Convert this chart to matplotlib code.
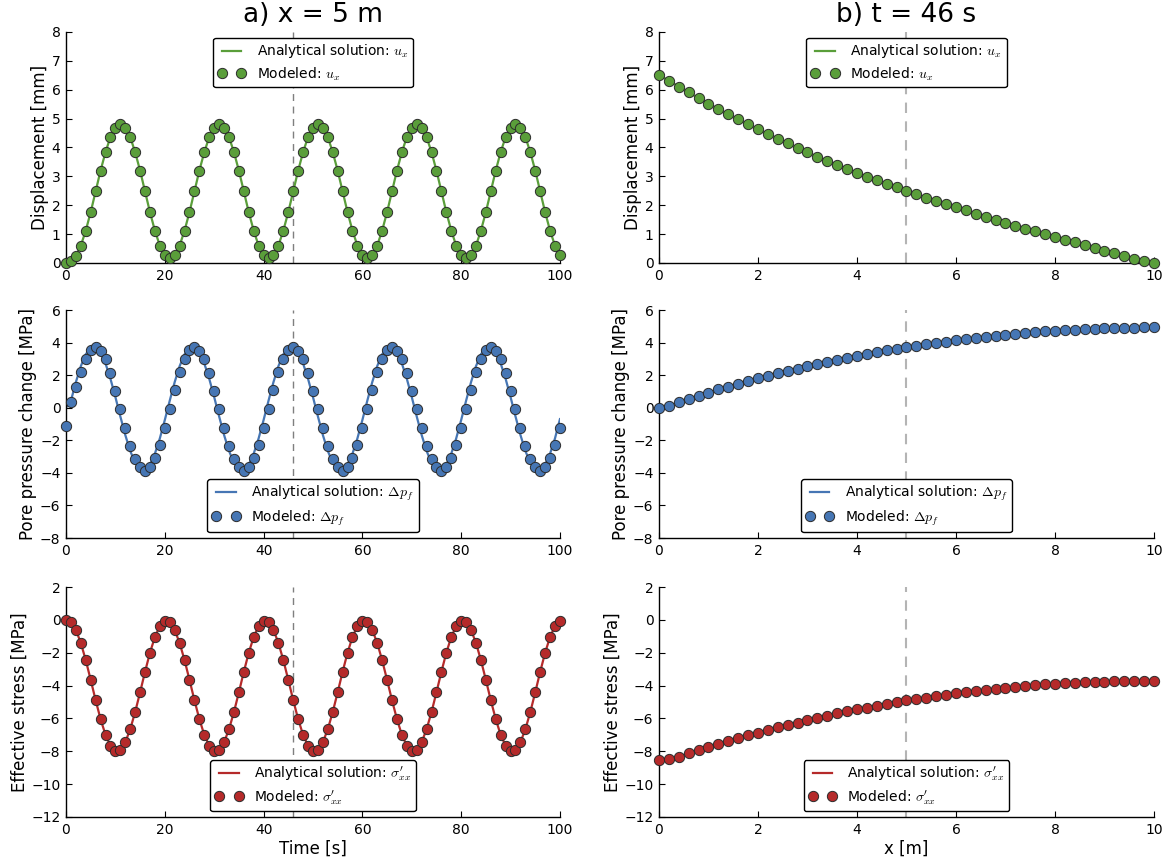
import numpy as np
import matplotlib
matplotlib.use("Agg")
import matplotlib.pyplot as plt

# ---------------------------------------------------------------------------
# Data
# ---------------------------------------------------------------------------
time_s = np.arange(0, 101)            # observation times at x = 5 m
x_m = np.linspace(0.0, 10.0, 51)      # profile positions at t = 46 s

# displacement u_x [mm] at x = 5 m
disp_t = [
    0.00, 0.06, 0.25, 0.60, 1.12, 1.76, 2.48, 3.20, 3.84, 4.36,
    4.69, 4.80, 4.69, 4.36, 3.84, 3.20, 2.48, 1.76, 1.12, 0.60,
    0.27, 0.16, 0.27, 0.60, 1.12, 1.76, 2.48, 3.20, 3.84, 4.36,
    4.69, 4.80, 4.69, 4.36, 3.84, 3.20, 2.48, 1.76, 1.12, 0.60,
    0.27, 0.16, 0.27, 0.60, 1.12, 1.76, 2.48, 3.20, 3.84, 4.36,
    4.69, 4.80, 4.69, 4.36, 3.84, 3.20, 2.48, 1.76, 1.12, 0.60,
    0.27, 0.16, 0.27, 0.60, 1.12, 1.76, 2.48, 3.20, 3.84, 4.36,
    4.69, 4.80, 4.69, 4.36, 3.84, 3.20, 2.48, 1.76, 1.12, 0.60,
    0.27, 0.16, 0.27, 0.60, 1.12, 1.76, 2.48, 3.20, 3.84, 4.36,
    4.69, 4.80, 4.69, 4.36, 3.84, 3.20, 2.48, 1.76, 1.12, 0.60,
    0.27,
]

# pore pressure change [MPa] at x = 5 m
pres_t_analytical = [
    0.00, 0.43, 1.57, 2.55, 3.28, 3.68, 3.72, 3.39, 2.72, 1.78,
    0.66, -0.53, -1.67, -2.65, -3.38, -3.78, -3.82, -3.49, -2.82, -1.88,
    -0.76, 0.43, 1.57, 2.55, 3.28, 3.68, 3.72, 3.39, 2.72, 1.78,
    0.66, -0.53, -1.67, -2.65, -3.38, -3.78, -3.82, -3.49, -2.82, -1.88,
    -0.76, 0.43, 1.57, 2.55, 3.28, 3.68, 3.72, 3.39, 2.72, 1.78,
    0.66, -0.53, -1.67, -2.65, -3.38, -3.78, -3.82, -3.49, -2.82, -1.88,
    -0.76, 0.43, 1.57, 2.55, 3.28, 3.68, 3.72, 3.39, 2.72, 1.78,
    0.66, -0.53, -1.67, -2.65, -3.38, -3.78, -3.82, -3.49, -2.82, -1.88,
    -0.76, 0.43, 1.57, 2.55, 3.28, 3.68, 3.72, 3.39, 2.72, 1.78,
    0.66, -0.53, -1.67, -2.65, -3.38, -3.78, -3.82, -3.49, -2.82, -1.88,
    -0.70,
]
pres_t_modeled = [
    -1.10, 0.37, 1.29, 2.21, 2.97, 3.54, 3.75, 3.50, 2.97, 2.11,
    1.05, -0.08, -1.27, -2.33, -3.15, -3.66, -3.86, -3.66, -3.11, -2.29,
    -1.22, -0.10, 1.09, 2.18, 2.97, 3.54, 3.75, 3.50, 2.97, 2.11,
    1.05, -0.08, -1.27, -2.33, -3.15, -3.66, -3.86, -3.66, -3.11, -2.29,
    -1.22, -0.10, 1.09, 2.18, 2.97, 3.54, 3.75, 3.50, 2.97, 2.11,
    1.05, -0.08, -1.27, -2.33, -3.15, -3.66, -3.86, -3.66, -3.11, -2.29,
    -1.22, -0.10, 1.09, 2.18, 2.97, 3.54, 3.75, 3.50, 2.97, 2.11,
    1.05, -0.08, -1.27, -2.33, -3.15, -3.66, -3.86, -3.66, -3.11, -2.29,
    -1.22, -0.10, 1.09, 2.18, 2.97, 3.54, 3.75, 3.50, 2.97, 2.11,
    1.05, -0.08, -1.27, -2.33, -3.15, -3.66, -3.86, -3.66, -3.11, -2.29,
    -1.22,
]

# effective stress sigma'_xx [MPa] at x = 5 m
stress_t = [
    0.00, -0.15, -0.61, -1.40, -2.45, -3.65, -4.89, -6.04, -7.00, -7.66,
    -7.96, -7.90, -7.45, -6.66, -5.61, -4.41, -3.16, -2.00, -1.04, -0.37,
    -0.07, -0.15, -0.61, -1.40, -2.45, -3.65, -4.89, -6.04, -7.00, -7.66,
    -7.96, -7.90, -7.45, -6.66, -5.61, -4.41, -3.16, -2.00, -1.04, -0.37,
    -0.07, -0.15, -0.61, -1.40, -2.45, -3.65, -4.89, -6.04, -7.00, -7.66,
    -7.96, -7.90, -7.45, -6.66, -5.61, -4.41, -3.16, -2.00, -1.04, -0.37,
    -0.07, -0.15, -0.61, -1.40, -2.45, -3.65, -4.89, -6.04, -7.00, -7.66,
    -7.96, -7.90, -7.45, -6.66, -5.61, -4.41, -3.16, -2.00, -1.04, -0.37,
    -0.07, -0.15, -0.61, -1.40, -2.45, -3.65, -4.89, -6.04, -7.00, -7.66,
    -7.96, -7.90, -7.45, -6.66, -5.61, -4.41, -3.16, -2.00, -1.04, -0.37,
    -0.07,
]

# profiles at t = 46 s
disp_x = [
    6.51, 6.31, 6.11, 5.91, 5.71, 5.52, 5.33, 5.15, 4.98, 4.80,
    4.63, 4.47, 4.31, 4.15, 3.98, 3.83, 3.68, 3.54, 3.40, 3.27,
    3.13, 2.99, 2.86, 2.74, 2.62, 2.50, 2.38, 2.26, 2.15, 2.03,
    1.93, 1.82, 1.71, 1.60, 1.50, 1.40, 1.29, 1.19, 1.10, 1.00,
    0.91, 0.81, 0.72, 0.62, 0.53, 0.43, 0.34, 0.24, 0.15, 0.07,
    0.00,
]
pres_x = [
    0.00, 0.13, 0.33, 0.54, 0.72, 0.92, 1.13, 1.29, 1.48, 1.64,
    1.81, 1.95, 2.11, 2.26, 2.40, 2.54, 2.69, 2.81, 2.95, 3.07,
    3.19, 3.30, 3.40, 3.53, 3.61, 3.71, 3.81, 3.89, 3.97, 4.05,
    4.14, 4.22, 4.28, 4.36, 4.42, 4.48, 4.55, 4.61, 4.65, 4.69,
    4.73, 4.77, 4.79, 4.83, 4.85, 4.87, 4.89, 4.91, 4.91, 4.93,
    4.93,
]
stress_x = [
    -8.52, -8.47, -8.33, -8.12, -7.92, -7.74, -7.56, -7.37, -7.19, -7.03,
    -6.87, -6.70, -6.54, -6.40, -6.26, -6.11, -5.97, -5.83, -5.69, -5.55,
    -5.43, -5.34, -5.22, -5.12, -5.02, -4.90, -4.82, -4.74, -4.63, -4.55,
    -4.47, -4.41, -4.33, -4.27, -4.21, -4.13, -4.07, -4.03, -3.96, -3.92,
    -3.89, -3.84, -3.82, -3.80, -3.78, -3.76, -3.74, -3.72, -3.72, -3.70,
    -3.70,
]

x_probe = 5.0      # m
t_probe = 46.0     # s

# ---------------------------------------------------------------------------
# Style
# ---------------------------------------------------------------------------
plt.rcParams.update({
    "font.family": ["DejaVu Sans"],
    "mathtext.fontset": "cm",
    "font.size": 10,
    "xtick.direction": "in",
    "ytick.direction": "in",
    "xtick.major.size": 4,
    "ytick.major.size": 4,
    "xtick.major.width": 0.8,
    "ytick.major.width": 0.8,
    "axes.linewidth": 1.0,
    "legend.fontsize": 10,
})

GREEN = "#5a9e3a"
BLUE = "#4676b4"
RED = "#b52a2a"
EDGE = "#2b2b2b"

fig = plt.figure(figsize=(11.68, 8.60), dpi=100)

col_left = [0.0565, 0.5642]
col_width = [0.4229, 0.4238]
rows = [(0.6942, 0.2686), (0.3744, 0.2651), (0.0500, 0.2674)]

axes = [[fig.add_axes([col_left[c], rows[r][0], col_width[c], rows[r][1]])
         for c in range(2)] for r in range(3)]

SIG = r"$\sigma^{\prime}_{xx}$"

panels = [
    # (row, col, xdata, line, points, colour, ylabel, ylim, yticks, symbol, legend loc)
    (0, 0, time_s, disp_t, disp_t, GREEN, "Displacement [mm]", (0, 8),
     np.arange(0, 9, 1), r"$u_x$", "upper center"),
    (1, 0, time_s, pres_t_analytical, pres_t_modeled, BLUE,
     "Pore pressure change [MPa]", (-8, 6), np.arange(-8, 7, 2),
     r"$\Delta p_f$", "lower center"),
    (2, 0, time_s, stress_t, stress_t, RED, "Effective stress [MPa]",
     (-12, 2), np.arange(-12, 3, 2), SIG, "lower center"),
    (0, 1, x_m, disp_x, disp_x, GREEN, "Displacement [mm]", (0, 8),
     np.arange(0, 9, 1), r"$u_x$", "upper center"),
    (1, 1, x_m, pres_x, pres_x, BLUE, "Pore pressure change [MPa]", (-8, 6),
     np.arange(-8, 7, 2), r"$\Delta p_f$", "lower center"),
    (2, 1, x_m, stress_x, stress_x, RED, "Effective stress [MPa]", (-12, 2),
     np.arange(-12, 3, 2), SIG, "lower center"),
]

for r, c, xs, line, pts, colour, ylabel, ylim, yticks, sym, loc in panels:
    ax = axes[r][c]
    if c == 0:
        ax.axvline(t_probe, color="#7f7f7f", lw=1.0, ls=(0, (5, 4)), zorder=1)
        ax.set_xlim(0, 100)
        ax.set_xticks(np.arange(0, 101, 20))
    else:
        ax.axvline(x_probe, color="#b4b4b4", lw=1.5, ls=(0, (5, 4)), zorder=1)
        ax.set_xlim(0, 10)
        ax.set_xticks(np.arange(0, 11, 2))
    ax.plot(xs, line, color=colour, lw=1.6, zorder=2,
            label="Analytical solution: " + sym)
    ax.plot(xs, pts, ls="none", marker="o", ms=7.4, mfc=colour, mec=EDGE,
            mew=0.7, zorder=3, label="Modeled: " + sym, clip_on=False)
    ax.set_ylim(*ylim)
    ax.set_yticks(yticks)
    ax.set_ylabel(ylabel, fontsize=12, labelpad=2)
    ax.spines["top"].set_visible(False)
    ax.spines["right"].set_visible(False)
    ax.tick_params(top=False, right=False, labelsize=10, pad=4)
    leg = ax.legend(loc=loc, numpoints=2, fancybox=True, framealpha=1.0,
                    borderpad=0.35, handlelength=2.0, labelspacing=0.35,
                    borderaxespad=0.4)
    leg.get_frame().set_edgecolor("black")
    leg.get_frame().set_linewidth(1.0)

axes[0][0].set_title("a) x = 5 m", fontsize=19, pad=7)
axes[0][1].set_title("b) t = 46 s", fontsize=19, pad=7)
axes[2][0].set_xlabel("Time [s]", fontsize=12, labelpad=2)
axes[2][1].set_xlabel("x [m]", fontsize=12, labelpad=2)

fig.savefig("out.png", dpi=100)
